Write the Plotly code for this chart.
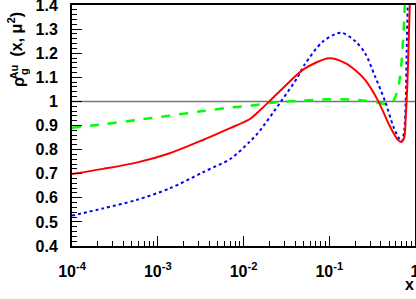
import plotly.graph_objects as go

# ---- data ----
red_x = [1e-4, 2.31e-4, 5.65e-4, 1.38e-3, 3.37e-3, 6.87e-3, 1.175e-2, 1.47e-2, 2.0e-2,
         3.0e-2, 5.1e-2, 1e-1, 1.56e-1, 2.0e-1, 2.62e-1, 3.74e-1, 4.9e-1, 6.12e-1,
         6.82e-1, 7.45e-1, 7.8e-1, 8.15e-1, 8.45e-1, 8.69e-1, 9.1e-1]
red_y = [0.699, 0.720, 0.746, 0.785, 0.840, 0.888, 0.926, 0.955, 1.0,
         1.061, 1.135, 1.179, 1.158, 1.13, 1.089, 1.0, 0.909, 0.847,
         0.833, 0.847, 0.937, 1.075, 1.255, 1.4, 1.7]

blue_x = [1e-4, 2.31e-4, 5.65e-4, 1.38e-3, 3.37e-3, 7.2e-3, 1.175e-2, 1.47e-2, 2.74e-2,
          4.27e-2, 5.1e-2, 8.4e-2, 1.37e-1, 2.04e-1, 2.62e-1, 3.43e-1, 4.48e-1,
          5.6e-1, 6.4e-1, 7.0e-1, 7.5e-1, 7.8e-1, 8.0e-1, 8.22e-1, 8.5e-1]
blue_y = [0.526, 0.556, 0.591, 0.639, 0.706, 0.764, 0.832, 0.868, 1.0,
          1.10, 1.15, 1.248, 1.285, 1.248, 1.2, 1.103, 1.0,
          0.895, 0.851, 0.832, 0.881, 1.0, 1.21, 1.4, 1.75]

green_x = [1e-4, 2.31e-4, 5.65e-4, 1.38e-3, 3.37e-3, 6.87e-3, 1.175e-2, 2.0e-2, 3.2e-2,
           5.1e-2, 1e-1, 2.0e-1, 3.49e-1, 4.48e-1, 5.36e-1, 6.12e-1, 6.7e-1,
           7.13e-1, 7.5e-1, 7.76e-1]
green_y = [0.891, 0.905, 0.923, 0.941, 0.960, 0.974, 0.982, 0.993, 1.0,
           1.004, 1.009, 1.007, 0.997, 0.99, 0.993, 1.034, 1.103,
           1.21, 1.35, 1.5]

x_tickvals = [1e-4, 1e-3, 1e-2, 1e-1, 1]
x_ticktext = ["10<sup>-4</sup>", "10<sup>-3</sup>", "10<sup>-2</sup>", "10<sup>-1</sup>", "1"]
y_tickvals = [0.4, 0.5, 0.6, 0.7, 0.8, 0.9, 1.0, 1.1, 1.2, 1.3, 1.4]
y_ticktext = ["0.4", "0.5", "0.6", "0.7", "0.8", "0.9", "1", "1.1", "1.2", "1.3", "1.4"]

W, H = 416, 299
L, R, T, B = 72, 1, 5, 53
pw, ph = W - L - R, H - T - B

def px(x):
    return (x - L) / pw

def py(y):
    return (H - B - y) / ph

FONT = "Liberation Sans"

fig = go.Figure()
fig.add_trace(go.Scatter(x=green_x, y=green_y, mode="lines",
                         line=dict(color="#00ff00", width=2.5, dash="dash", shape="spline", smoothing=0.8)))
fig.add_trace(go.Scatter(x=blue_x, y=blue_y, mode="lines",
                         line=dict(color="#0000ff", width=2, dash="dot", shape="spline", smoothing=0.8)))
fig.add_trace(go.Scatter(x=red_x, y=red_y, mode="lines",
                         line=dict(color="#ff0000", width=2, shape="spline", smoothing=0.8)))

fig.add_shape(type="line", xref="paper", yref="y", x0=0, x1=1, y0=1, y1=1,
              line=dict(color="#777777", width=1.5), layer="below")

axis_common = dict(
    ticks="inside", ticklen=10, tickwidth=1, tickcolor="black",
    showline=True, linewidth=2, linecolor="black", mirror=True,
    showgrid=False, zeroline=False, automargin=False,
    ticklabeloverflow="allow",
    tickfont=dict(family=FONT, size=16, weight="bold", color="black"),
)

fig.update_layout(
    width=W, height=H,
    margin=dict(l=L, r=R, t=T, b=B, autoexpand=False),
    paper_bgcolor="white", plot_bgcolor="white",
    showlegend=False,
    font=dict(family=FONT, size=16, color="black"),
    xaxis=dict(type="log", range=[-4, 0], tickvals=x_tickvals, ticktext=x_ticktext,
               minor=dict(ticks="inside", ticklen=5, tickwidth=1, tickcolor="black",
                          dtick="D1", showgrid=False),
               ticklabelstandoff=10, **axis_common),
    yaxis=dict(range=[0.4, 1.4], tickvals=y_tickvals, ticktext=y_ticktext,
               minor=dict(ticks="inside", ticklen=5, tickwidth=1, tickcolor="black",
                          dtick=0.02, showgrid=False),
               ticklabelstandoff=9, **axis_common),
)

ann_font = dict(family=FONT, color="black", weight="bold")
annotations = [
    dict(text="ρ", x=px(18.5), y=py(82.5), font=dict(size=16, **ann_font)),
    dict(text="Au", x=px(13), y=py(72.5), font=dict(size=11, **ann_font)),
    dict(text="g", x=px(24), y=py(72), font=dict(size=11, **ann_font)),
    dict(text="(x, μ<sup>2</sup>)", x=px(15.5), y=py(35), font=dict(size=16, **ann_font)),
]
for a in annotations:
    fig.add_annotation(xref="paper", yref="paper", showarrow=False, textangle=-90,
                       xanchor="center", yanchor="middle", **a)

fig.add_annotation(text="x", xref="paper", yref="paper", x=px(409.5), y=py(284),
                   showarrow=False, xanchor="center", yanchor="middle",
                   font=dict(family=FONT, size=16, color="black", weight="bold"))

fig.write_html(
    "out.html",
    config={"displayModeBar": False},
    post_script="document.body.style.margin='0';document.body.style.overflow='hidden';",
)
